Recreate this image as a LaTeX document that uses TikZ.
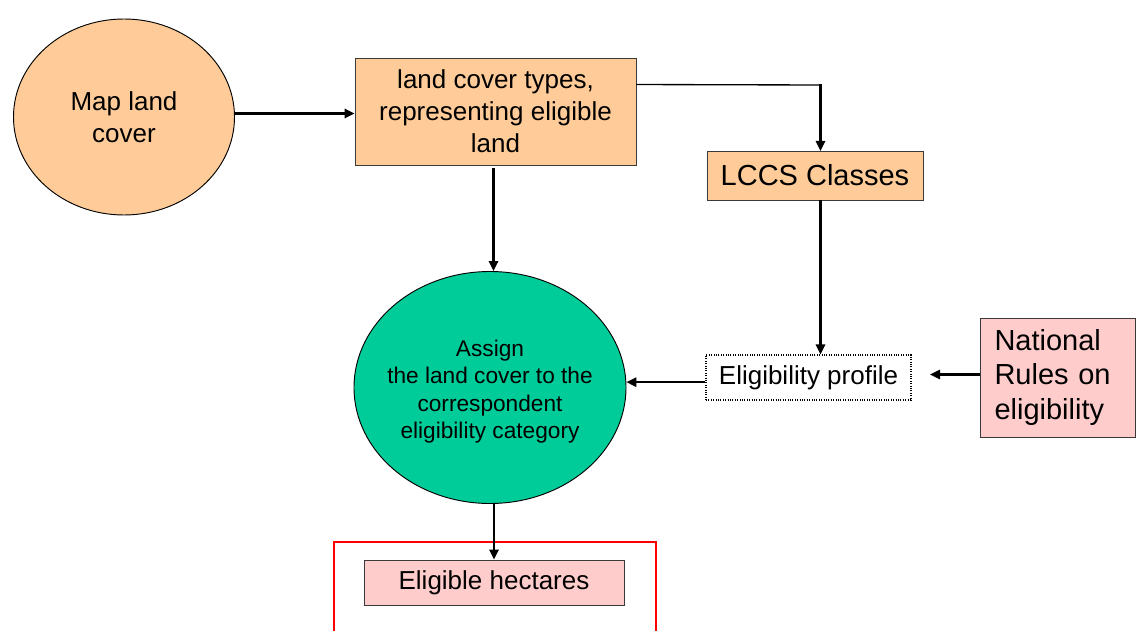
\documentclass[tikz,border=0pt]{standalone}
\usepackage{fontspec}
\setmainfont{Liberation Sans}
\usetikzlibrary{shapes.geometric,arrows.meta,calc}
\definecolor{orangefill}{HTML}{FFCC99}
\definecolor{greenfill}{HTML}{00CC99}
\definecolor{pinkfill}{HTML}{FFCCCC}
\definecolor{edgegray}{HTML}{3A3A3A}
\tikzset{
  arr/.style={line width=1.6pt,-{Triangle[length=7.5pt,width=7pt]}},
  thinline/.style={line width=1pt},
  boxstyle/.style={draw=edgegray,line width=0.7pt,rectangle,inner sep=0pt,align=center},
  ovalstyle/.style={draw=black,line width=0.7pt,ellipse,inner sep=0pt,align=center},
  fmid/.style={font=\fontsize{19.5}{24}\selectfont},
  fbig/.style={font=\fontsize{21.75}{26}\selectfont},
  fsmall/.style={font=\fontsize{17}{20.6}\selectfont},
}
\begin{document}
\begin{tikzpicture}[x=0.75pt,y=-0.75pt]
\useasboundingbox (0,0) rectangle (1136,631);
\fill[white] (0,0) rectangle (1136,631);

\node[ovalstyle,fill=orangefill,fmid,minimum width=221*0.75pt,minimum height=196*0.75pt] (map) at (124,117) {Map land\\cover};
\node[boxstyle,fill=orangefill,fmid,minimum width=281*0.75pt,minimum height=107*0.75pt] (types) at (495.5,111.5) {land cover types,\\representing eligible\\land};
\node[boxstyle,fill=orangefill,fbig,minimum width=216*0.75pt,minimum height=49*0.75pt] (lccs) at (815,175.5) {LCCS Classes};
\node[draw=black,densely dotted,line width=0.8pt,rectangle,inner sep=0pt,fmid,minimum width=205*0.75pt,minimum height=45*0.75pt] (prof) at (808.5,377.5) {Eligibility profile};
\node[boxstyle,fill=pinkfill,fbig,align=left,text width=127*0.75pt,inner xsep=14*0.75pt,minimum height=119*0.75pt] (nat) at (1058,377.5) {National\\Rules on\\eligibility};
\node[ovalstyle,fill=greenfill,minimum width=272*0.75pt,minimum height=232*0.75pt] (assign) at (490,387.5) {};
\node[fsmall,align=center,inner sep=0pt] (assigntext) at ([yshift=-3pt]assign.center) {Assign\\the land cover to the\\correspondent\\eligibility category};
\node[boxstyle,fill=pinkfill,fmid,minimum width=260*0.75pt,minimum height=45*0.75pt] (hect) at (494,582.5) {Eligible hectares};

\draw[red,line width=1.6pt] (334,632) -- (334,542) -- (656,542) -- (656,632);

\coordinate (natend) at (930,374.5);
\coordinate (lccsin) at (820.5,151);
\coordinate (corner) at (820.5,85);

\draw[arr] (map.east |- 0,113.5) -- (types.west |- 0,113.5);
\draw[thinline] ($(types.north east)!0.25!(types.south east)$) -- (corner);
\draw[arr] ([yshift=0.4pt]corner) -- (lccsin);
\draw[arr] (lccsin |- lccs.south) -- (lccsin |- prof.north);
\draw[arr] (nat.west |- natend) -- (natend);
\draw[arr] ([yshift=-3.5pt]prof.west) -- ([yshift=-3.5pt]prof.west -| assign.east);
\draw[arr] ([xshift=-1.5pt,yshift=-2.2pt]types.south) -- ([xshift=-1.5pt]types.south |- assign.north);
\draw[arr] (hect.north |- assign.south) -- (hect.north);
\end{tikzpicture}
\end{document}
